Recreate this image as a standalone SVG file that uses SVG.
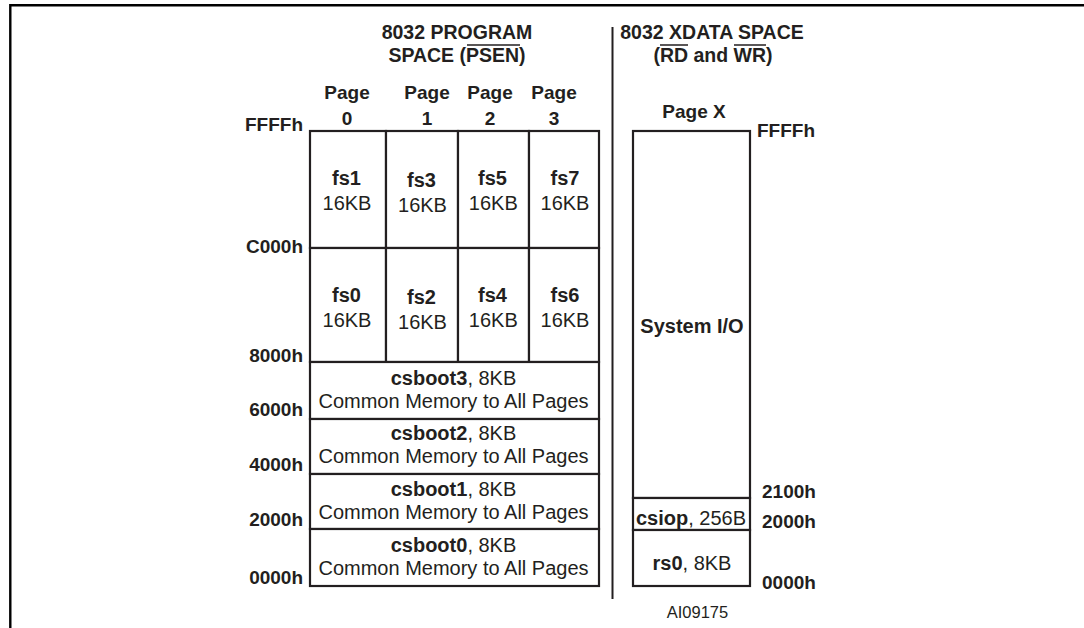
<svg xmlns="http://www.w3.org/2000/svg" width="1084" height="628" viewBox="0 0 1084 628">
<style>
text{font-family:"Liberation Sans",Arial,sans-serif;fill:#231f20}
.h{font-size:19.5px;font-weight:bold;text-anchor:middle}
.pg{font-size:19px;font-weight:bold;text-anchor:middle}
.ad{font-size:19px;font-weight:bold;text-anchor:end}
.adr{font-size:19px;font-weight:bold;text-anchor:start}
.b{font-size:20px;text-anchor:middle}
.bb{font-weight:bold}
.box{fill:#fff;stroke:#231f20;stroke-width:2.2}
.div{stroke:#231f20;stroke-width:2;fill:none}
.frame{stroke:#000;stroke-width:2.4;fill:none}
.ov{stroke:#231f20;stroke-width:1.5}
.id{font-size:16.5px;text-anchor:middle}
</style>
<rect width="1084" height="628" fill="#fff"/>
<g id="frame">
<path class="frame" d="M10.3,628 V5.3 H1084"/>
</g>
<g id="headers">
<text class="h" x="457" y="39">8032 PROGRAM</text>
<text class="h" x="457" y="62">SPACE (PSEN)</text>
<line class="ov" x1="467" y1="45" x2="520" y2="45"/>
<text class="h" x="712" y="39">8032 XDATA SPACE</text>
<text class="h" x="713" y="62">(RD and WR)</text>
<line class="ov" x1="660" y1="45" x2="688" y2="45"/>
<line class="ov" x1="734" y1="45" x2="766" y2="45"/>
<text class="pg" x="347" y="99">Page</text>
<text class="pg" x="427" y="99">Page</text>
<text class="pg" x="490" y="99">Page</text>
<text class="pg" x="554" y="99">Page</text>
<text class="pg" x="347" y="125">0</text>
<text class="pg" x="427" y="125">1</text>
<text class="pg" x="490" y="125">2</text>
<text class="pg" x="554" y="125">3</text>
<text class="pg" x="694" y="118">Page X</text>
</g>
<g id="addresses-program">
<text class="ad" x="303" y="131">FFFFh</text>
<text class="ad" x="303" y="253">C000h</text>
<text class="ad" x="303" y="362">8000h</text>
<text class="ad" x="303" y="415.5">6000h</text>
<text class="ad" x="303" y="470.5">4000h</text>
<text class="ad" x="303" y="525.5">2000h</text>
<text class="ad" x="303" y="583.5">0000h</text>
</g>
<g id="addresses-xdata">
<text class="adr" x="757" y="137">FFFFh</text>
<text class="adr" x="762" y="497.5">2100h</text>
<text class="adr" x="762" y="527.5">2000h</text>
<text class="adr" x="762" y="588.5">0000h</text>
</g>
<g id="fs1"><rect class="box" x="310" y="131" width="76" height="117"/><text class="b" x="346.5" y="185"><tspan class="bb">fs1</tspan></text><text class="b" x="347" y="210">16KB</text></g>
<g id="fs3"><rect class="box" x="386" y="131" width="72" height="117"/><text class="b" x="421.5" y="187"><tspan class="bb">fs3</tspan></text><text class="b" x="422.5" y="212">16KB</text></g>
<g id="fs5"><rect class="box" x="458" y="131" width="71" height="117"/><text class="b" x="492.5" y="185"><tspan class="bb">fs5</tspan></text><text class="b" x="493.3" y="210">16KB</text></g>
<g id="fs7"><rect class="box" x="529" y="131" width="70" height="117"/><text class="b" x="565" y="185"><tspan class="bb">fs7</tspan></text><text class="b" x="565" y="210">16KB</text></g>
<g id="fs0"><rect class="box" x="310" y="248" width="76" height="114"/><text class="b" x="346.5" y="301.5"><tspan class="bb">fs0</tspan></text><text class="b" x="347" y="326.5">16KB</text></g>
<g id="fs2"><rect class="box" x="386" y="248" width="72" height="114"/><text class="b" x="421.5" y="304"><tspan class="bb">fs2</tspan></text><text class="b" x="422.5" y="328.5">16KB</text></g>
<g id="fs4"><rect class="box" x="458" y="248" width="71" height="114"/><text class="b" x="492.5" y="301.5"><tspan class="bb">fs4</tspan></text><text class="b" x="493.3" y="326.5">16KB</text></g>
<g id="fs6"><rect class="box" x="529" y="248" width="70" height="114"/><text class="b" x="565" y="301.5"><tspan class="bb">fs6</tspan></text><text class="b" x="565" y="326.5">16KB</text></g>
<g id="csboot3"><rect class="box" x="310" y="362" width="289" height="57"/><text class="b" x="453.5" y="385"><tspan class="bb">csboot3</tspan>, 8KB</text><text class="b" x="453.5" y="408">Common Memory to All Pages</text></g>
<g id="csboot2"><rect class="box" x="310" y="419" width="289" height="55"/><text class="b" x="453.5" y="440"><tspan class="bb">csboot2</tspan>, 8KB</text><text class="b" x="453.5" y="463">Common Memory to All Pages</text></g>
<g id="csboot1"><rect class="box" x="310" y="474" width="289" height="55"/><text class="b" x="453.5" y="496"><tspan class="bb">csboot1</tspan>, 8KB</text><text class="b" x="453.5" y="519">Common Memory to All Pages</text></g>
<g id="csboot0"><rect class="box" x="310" y="529" width="289" height="57"/><text class="b" x="453.5" y="552"><tspan class="bb">csboot0</tspan>, 8KB</text><text class="b" x="453.5" y="575">Common Memory to All Pages</text></g>
<g id="system-io"><rect class="box" x="633" y="131" width="117" height="367"/><text class="b bb" x="692" y="333">System I/O</text></g>
<g id="csiop"><rect class="box" x="633" y="498" width="117" height="32"/><text class="b" x="691" y="525"><tspan class="bb">csiop</tspan>, 256B</text></g>
<g id="rs0"><rect class="box" x="633" y="530" width="117" height="56"/><text class="b" x="692" y="570"><tspan class="bb">rs0</tspan>, 8KB</text></g>
<g id="connectors">
<line class="div" x1="612.5" y1="27" x2="612.5" y2="599"/>
</g>
<text class="id" x="697.5" y="618">AI09175</text>
</svg>
